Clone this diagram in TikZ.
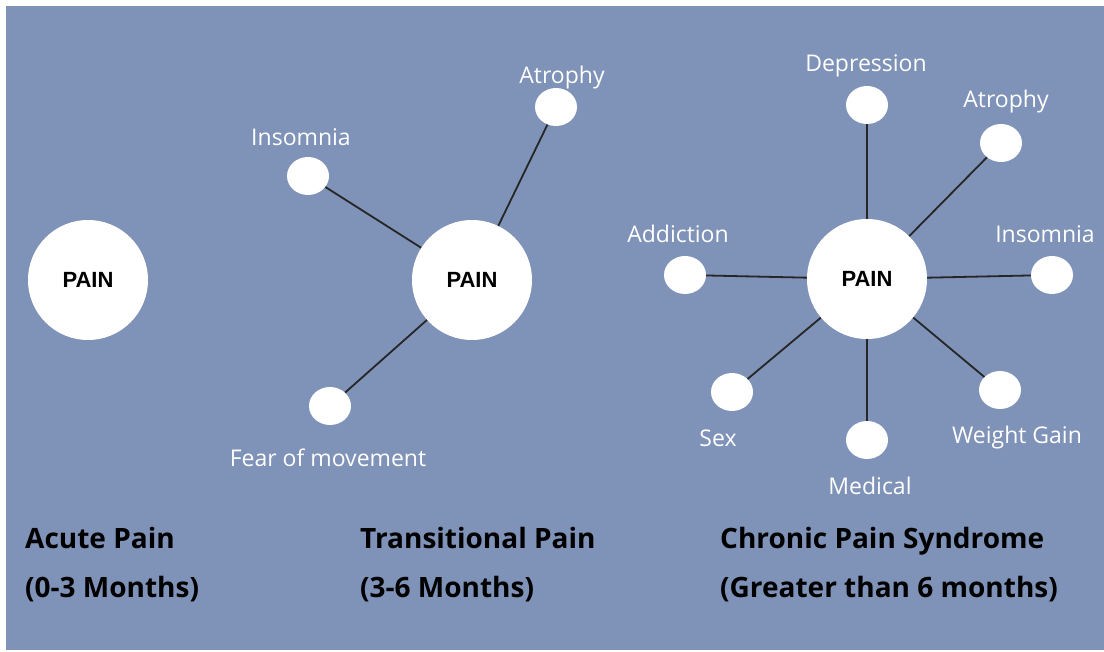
\documentclass[tikz,border=0pt]{standalone}
\usepackage{fontspec}
\setmainfont{Open Sans}
\newfontfamily\painfont{Liberation Sans}
\usetikzlibrary{shapes.geometric}
\definecolor{slate}{RGB}{127,146,184}
\tikzstyle{hub}=[circle,fill=white,minimum size=120pt,inner sep=0pt,font=\painfont\fontsize{22}{24}\selectfont\bfseries]
\tikzstyle{leaf}=[ellipse,fill=white,minimum width=42pt,minimum height=38pt,inner sep=0pt]
\tikzstyle{lbl}=[text=white,inner sep=0pt,font=\fontsize{23}{26}\selectfont]
\tikzstyle{stage}=[anchor=base west,inner sep=0pt,font=\fontsize{28}{32}\selectfont\bfseries]
\tikzstyle{link}=[line width=1.8pt,black!85]

\begin{document}
\begin{tikzpicture}[x=1pt,y=-1pt]
\useasboundingbox (0,0) rectangle (1104,652);
\fill[slate] (6,6) rectangle (1104,650);

\node[hub] at (88, 280) (apain) {PAIN};

\node[hub] at (472, 280) (tpain) {PAIN};
\node[leaf] at (308, 176) (tins) {};
\node[leaf] at (556, 107) (tatr) {};
\node[leaf] at (330, 406) (tfear) {};
\draw[link] (tpain) edge (tins);
\draw[link] (tpain) edge (tatr);
\draw[link] (tpain) edge (tfear);
\node[lbl] at (301, 137) (ltins) {Insomnia};
\node[lbl] at (562, 78) (ltatr) {Atrophy};
\node[lbl] at (328, 458) (ltfear) {Fear of movement};

\node[hub] at (867, 279) (cpain) {PAIN};
\node[leaf] at (867, 105) (cdep) {};
\node[leaf] at (1001, 143) (catr) {};
\node[leaf] at (1052, 275) (cins) {};
\node[leaf] at (1000, 390) (cwg) {};
\node[leaf] at (867, 440) (cmed) {};
\node[leaf] at (732, 392) (csex) {};
\node[leaf] at (685, 275) (cadd) {};
\draw[link] (cpain) edge (cdep);
\draw[link] (cpain) edge (catr);
\draw[link] (cpain) edge (cins);
\draw[link] (cpain) edge (cwg);
\draw[link] (cpain) edge (cmed);
\draw[link] (cpain) edge (csex);
\draw[link] (cpain) edge (cadd);
\node[lbl] at (866, 66) (lcdep) {Depression};
\node[lbl] at (1006, 102) (lcatr) {Atrophy};
\node[lbl] at (1045, 234) (lcins) {Insomnia};
\node[lbl] at (1017, 438) (lcwg) {Weight Gain};
\node[lbl] at (870, 486) (lcmed) {Medical};
\node[lbl] at (718, 438) (lcsex) {Sex};
\node[lbl] at (678, 234) (lcadd) {Addiction};

\node[stage] at (25, 548) (s1a) {Acute Pain};
\node[stage] at (25, 597) (s1b) {(0-3 Months)};
\node[stage] at (360, 548) (s2a) {Transitional Pain};
\node[stage] at (360, 597) (s2b) {(3-6 Months)};
\node[stage] at (720, 548) (s3a) {Chronic Pain Syndrome};
\node[stage] at (720, 597) (s3b) {(Greater than 6 months)};
\end{tikzpicture}
\end{document}
